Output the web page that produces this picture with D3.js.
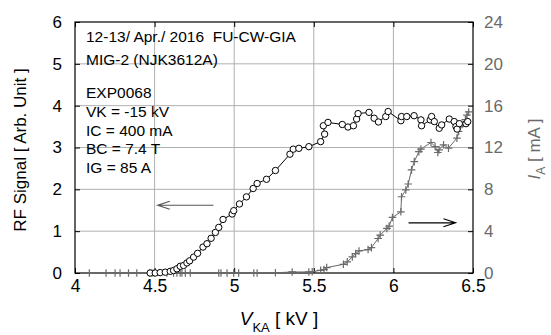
<!DOCTYPE html>
<html>
<head>
<meta charset="utf-8">
<script src="https://cdn.jsdelivr.net/npm/d3@7"></script>
<style>
  body { margin: 0; background: #fff; }
  svg { font-family: "Liberation Sans", Arial, sans-serif; }
</style>
</head>
<body>
<svg id="chart" width="551" height="335"></svg>
<script>
// RF signal (circles, left axis)
const rfV = [4.472, 4.504, 4.535, 4.567, 4.598, 4.619, 4.640, 4.661, 4.682, 4.703,
  4.720, 4.745, 4.770, 4.804, 4.829, 4.855, 4.882, 4.903, 4.930, 4.987,
  4.997, 5.033, 5.077, 5.119, 5.144, 5.203, 5.259, 5.350, 5.371, 5.406,
  5.469, 5.543, 5.568, 5.560, 5.589, 5.679, 5.715, 5.749, 5.769, 5.778,
  5.847, 5.879, 5.906, 5.952, 5.967, 6.047, 6.051, 6.084, 6.130, 6.173,
  6.177, 6.231, 6.240, 6.257, 6.288, 6.303, 6.351, 6.382, 6.393, 6.400,
  6.414, 6.456, 6.467]
const rfSignal = [0, 0, 0.01, 0.02, 0.04, 0.06, 0.10, 0.16, 0.18, 0.24,
  0.29, 0.38, 0.47, 0.62, 0.70, 0.83, 0.97, 1.09, 1.28, 1.41,
  1.49, 1.65, 1.82, 2.02, 2.14, 2.24, 2.45, 2.84, 2.96, 2.98,
  3.02, 3.14, 3.32, 3.52, 3.60, 3.55, 3.49, 3.52, 3.68, 3.81,
  3.84, 3.70, 3.61, 3.74, 3.86, 3.64, 3.74, 3.74, 3.76, 3.66,
  3.52, 3.66, 3.74, 3.62, 3.46, 3.54, 3.68, 3.62, 3.50, 3.44,
  3.57, 3.57, 3.62]

// beam current I_A (crosses, right axis)
const iaV = [4.090, 4.195, 4.252, 4.283, 4.336, 4.388, 4.468, 4.483, 4.497, 4.577,
  4.619, 4.640, 4.661, 4.672, 4.693, 4.724, 4.903, 4.917, 4.955, 4.997,
  5.028, 5.123, 5.144, 5.259, 5.364, 5.469, 5.490, 5.543, 5.564, 5.581,
  5.686, 5.710, 5.742, 5.763, 5.784, 5.841, 5.862, 5.904, 5.917, 5.959,
  5.973, 5.994, 6.047, 6.051, 6.078, 6.093, 6.114, 6.131, 6.160, 6.173,
  6.236, 6.262, 6.279, 6.287, 6.315, 6.346, 6.399, 6.410, 6.420, 6.431,
  6.452, 6.462, 6.473]
const iaCurrent = [0, 0, 0, 0, 0, 0, 0, 0, 0, 0,
  0, 0, 0, 0, 0, 0, 0, 0, 0, 0,
  0, 0, 0, 0.02, 0.1, 0.1, 0.12, 0.26, 0.32, 0.52,
  0.83, 1.06, 1.54, 1.86, 2.11, 2.24, 2.43, 3.30, 3.62, 4.26,
  4.48, 5.31, 5.85, 7.29, 7.94, 8.51, 9.86, 10.65, 11.61, 11.84,
  12.48, 12.09, 11.52, 11.78, 12.26, 11.94, 12.9, 13.53, 14.0, 14.2,
  14.66, 15.1, 15.4]

const xTicks = [4, 4.5, 5, 5.5, 6, 6.5]
const yLeftTicks = [0, 1, 2, 3, 4, 5, 6]
const yRightTicks = [0, 4, 8, 12, 16, 20, 24]
const infoLines = ["12-13/ Apr./ 2016  FU-CW-GIA", "MIG-2 (NJK3612A)",
  "EXP0068", "VK = -15 kV", "IC = 400 mA", "BC = 7.4 T", "IG = 85 A"]

const margin = { top: 22, right: 78, bottom: 62, left: 75 }
const width = 551 - margin.left - margin.right,
  height = 335 - margin.top - margin.bottom

const svg = d3.select("#chart")
const g = svg.append("g").attr("transform", `translate(${margin.left},${margin.top})`)

const x = d3.scaleLinear().domain([4, 6.5]).range([0, width])
const yL = d3.scaleLinear().domain([0, 6]).range([height, 0])
const yR = d3.scaleLinear().domain([0, 24]).range([height, 0])

// grid
g.append("g")
  .selectAll("line")
  .data(xTicks.slice(1, -1))
  .join("line")
  .attr("x1", (d) => x(d)).attr("x2", (d) => x(d))
  .attr("y1", 0).attr("y2", height)
  .attr("stroke", "#b0b0b0").attr("stroke-width", 1)
g.append("g")
  .selectAll("line")
  .data(yLeftTicks.slice(1, -1))
  .join("line")
  .attr("x1", 0).attr("x2", width)
  .attr("y1", (d) => yL(d)).attr("y2", (d) => yL(d))
  .attr("stroke", "#b0b0b0").attr("stroke-width", 1)

// axes (inward ticks)
const styleAxis = (sel, color, size) => {
  sel.select(".domain").remove()
  sel.selectAll(".tick line").attr("stroke", "#000")
  sel.selectAll(".tick text").attr("fill", color).style("font-size", size + "px")
}
g.append("g").attr("transform", `translate(0,${height})`)
  .call(d3.axisBottom(x).tickValues(xTicks).tickFormat(d3.format("")).tickSizeInner(-5).tickPadding(7))
  .call(styleAxis, "#000", 17.5)
g.append("g")
  .call(d3.axisTop(x).tickValues(xTicks).tickSizeInner(-5).tickFormat(""))
  .call(styleAxis, "#000", 16)
g.append("g")
  .call(d3.axisLeft(yL).tickValues(yLeftTicks).tickFormat(d3.format("d")).tickSizeInner(-5).tickPadding(13))
  .call(styleAxis, "#000", 17)
g.append("g").attr("transform", `translate(${width},0)`)
  .call(d3.axisRight(yR).tickValues(yRightTicks).tickFormat(d3.format("d")).tickSizeInner(-5).tickPadding(11))
  .call(styleAxis, "#6a6a6a", 17)

g.append("rect")
  .attr("width", width).attr("height", height)
  .attr("fill", "none").attr("stroke", "#000").attr("stroke-width", 1.2)

// I_A series
const iaData = iaV.map((v, i) => ({ v, val: iaCurrent[i] }))
g.append("path")
  .datum(iaData)
  .attr("fill", "none").attr("stroke", "#6a6a6a").attr("stroke-width", 1)
  .attr("d", d3.line().x((d) => x(d.v)).y((d) => yR(d.val)))
const s = 3.8
g.append("g")
  .selectAll("path")
  .data(iaData)
  .join("path")
  .attr("d", (d) => `M${x(d.v) - s},${yR(d.val)}h${2 * s}M${x(d.v)},${yR(d.val) - s}v${2 * s}`)
  .attr("stroke", "#6a6a6a").attr("stroke-width", 1.2)

// RF series
const rfData = rfV.map((v, i) => ({ v, val: rfSignal[i] }))
g.append("path")
  .datum(rfData)
  .attr("fill", "none").attr("stroke", "#000").attr("stroke-width", 1)
  .attr("d", d3.line().x((d) => x(d.v)).y((d) => yL(d.val)))
g.append("g")
  .selectAll("circle")
  .data(rfData)
  .join("circle")
  .attr("cx", (d) => x(d.v)).attr("cy", (d) => yL(d.val))
  .attr("r", 3.2)
  .attr("fill", "#fff").attr("stroke", "#000").attr("stroke-width", 1)

// arrows
const arrow = (x1, x2, yy, color) => {
  const dir = x2 > x1 ? -1 : 1
  g.append("path")
    .attr("d", `M${x1},${yy}H${x2}M${x2 + dir * 12},${yy - 4}L${x2},${yy}L${x2 + dir * 12},${yy + 4}`)
    .attr("fill", "none").attr("stroke", color).attr("stroke-width", 1.2)
}
arrow(x(4.87), x(4.52), yL(1.62), "#555")
arrow(x(6.095), x(6.39), yR(4.8), "#000")

// info text
const info = g.append("text").attr("fill", "#000").style("font-size", "15.5px")
  .style("white-space", "pre")
const lineY = [19.5, 43, 76, 95, 113.5, 132, 150.5]
infoLines.forEach((t, i) => {
  info.append("tspan").attr("x", 11).attr("y", lineY[i]).text(t)
})

// axis titles
svg.append("text")
  .attr("transform", `translate(26,150) rotate(-90)`)
  .attr("text-anchor", "middle")
  .style("font-size", "17px")
  .text("RF Signal [ Arb. Unit ]")

const rt = svg.append("text")
  .attr("transform", `translate(540,149) rotate(-90)`)
  .attr("text-anchor", "middle")
  .attr("fill", "#6a6a6a")
  .style("font-size", "17px")
rt.append("tspan").style("font-style", "italic").text("I")
rt.append("tspan").attr("dy", 5).style("font-size", "12px").text("A")
rt.append("tspan").attr("dy", -5).text(" [ mA ]")

const bt = svg.append("text")
  .attr("x", 279).attr("y", 325)
  .attr("text-anchor", "middle")
  .style("font-size", "19px")
bt.append("tspan").style("font-style", "italic").text("V")
bt.append("tspan").attr("dy", 7).style("font-size", "13px").text("KA")
bt.append("tspan").attr("dy", -7).text(" [ kV ]")
</script>
</body>
</html>
